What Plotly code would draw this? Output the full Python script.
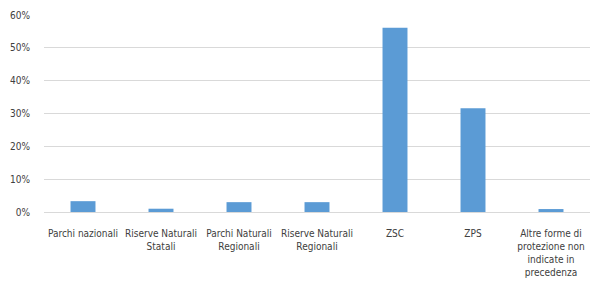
import plotly.graph_objects as go

categories = [
    "Parchi nazionali",
    "Riserve Naturali<br>Statali",
    "Parchi Naturali<br>Regionali",
    "Riserve Naturali<br>Regionali",
    "ZSC",
    "ZPS",
    "Altre forme di<br>protezione non<br>indicate in<br>precedenza",
]
values = [0.033, 0.010, 0.030, 0.030, 0.561, 0.316, 0.009]
y_ticks = [0, 0.1, 0.2, 0.3, 0.4, 0.5, 0.6]
y_labels = ["0%", "10%", "20%", "30%", "40%", "50%", "60%"]

fig = go.Figure(go.Bar(x=categories, y=values, marker=dict(color="#5b9bd5", line=dict(width=0))))

font_family = "DejaVu Sans Condensed, Liberation Sans Narrow, sans-serif"
fig.update_layout(
    width=591, height=290,
    margin=dict(l=44, r=1, t=15, b=78, autoexpand=False),
    paper_bgcolor="white", plot_bgcolor="white",
    bargap=0.68,
    showlegend=False,
    font=dict(family=font_family, size=10, color="#404040"),
)
fig.update_xaxes(showgrid=False, showline=True, linecolor="#d9d9d9", linewidth=1,
                 ticks="outside", ticklen=12, tickcolor="rgba(0,0,0,0)", tickangle=0, automargin=False)
fig.update_yaxes(range=[0, 0.6], tickvals=y_ticks, ticktext=y_labels,
                 showgrid=True, gridcolor="#d9d9d9", gridwidth=1, zeroline=False,
                 showline=False, ticks="outside", ticklen=11, tickcolor="rgba(0,0,0,0)",
                 automargin=False)
fig.write_html("out.html", config={"displayModeBar": False},
               post_script="document.body.style.margin='0';document.body.style.overflow='hidden';")
